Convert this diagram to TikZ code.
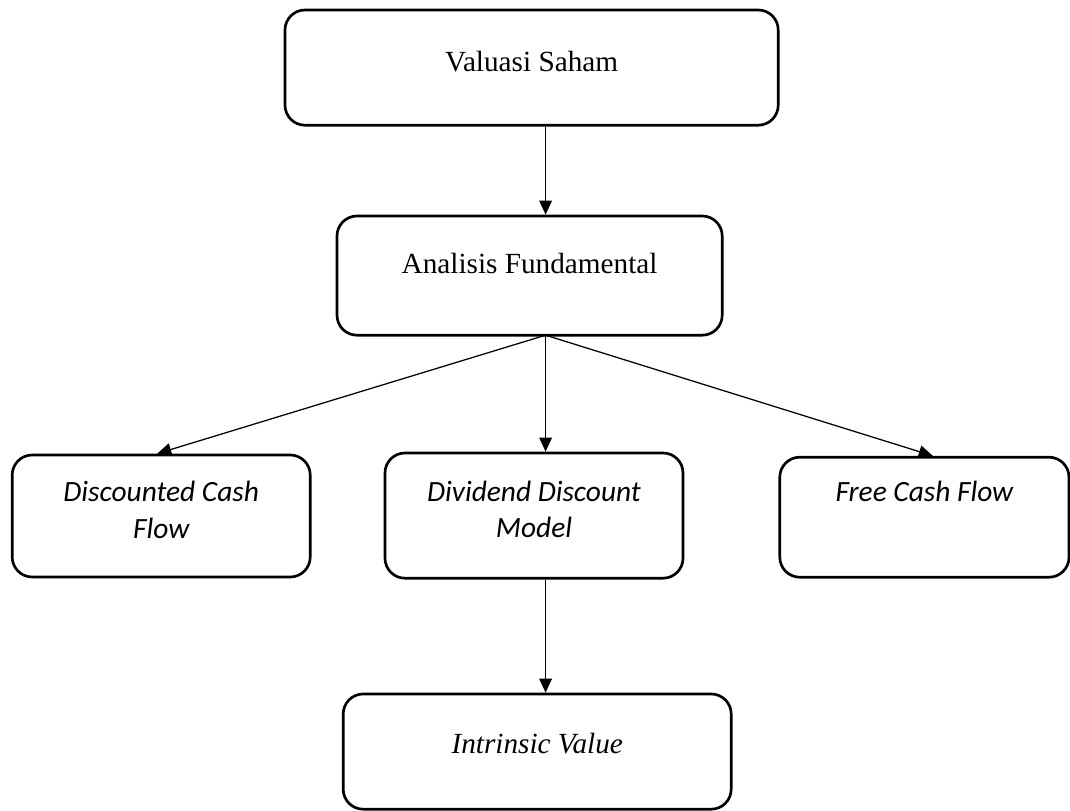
\documentclass[tikz,border=0pt]{standalone}
\usepackage{fontspec}
\setmainfont{Liberation Serif}
\newfontfamily\calibri{Carlito}
\usepackage{tikz}
\usetikzlibrary{positioning}
\usetikzlibrary{arrows.meta}

\begin{document}
\begin{tikzpicture}[->,>={Triangle[length=10pt,width=9pt]},line width=0.9pt,
	box/.style={draw,rounded corners=0.5cm,line width=1.9pt,inner sep=0pt},
	inside/.style={anchor=center,align=center,font=\fontsize{20.8}{26}\selectfont},
	serif text/.style={inside},
	sans text/.style={inside,font=\fontsize{20.9}{26}\selectfont\calibri\itshape}]
	
	\useasboundingbox (0,0) rectangle (26.75,-20.275);
	
	\node[box, minimum width=12.33cm, minimum height=2.88cm,
		label={[serif text, yshift=-1.33cm]north:Valuasi Saham}] (valuasi) at (13.29,-1.69) {};
	\node[box, minimum width=9.63cm, minimum height=2.98cm,
		label={[serif text, yshift=-1.23cm]north:Analisis Fundamental}] (analisis) at (13.24,-6.89) {};
	\node[box, minimum width=7.45cm, minimum height=3.05cm,
		label={[sans text, yshift=-1.4cm]north:Discounted Cash\\Flow}] (dcf) at (4.03,-12.9) {};
	\node[box, minimum width=7.45cm, minimum height=3.13cm,
		label={[sans text, yshift=-1.44cm]north:Dividend Discount\\Model}] (ddm) at (13.35,-12.89) {};
	\node[box, minimum width=7.23cm, minimum height=3.0cm,
		label={[sans text, yshift=-0.9cm]north:Free Cash Flow}] (fcf) at (23.11,-12.93) {};
	\node[box, minimum width=9.7cm, minimum height=2.88cm,
		label={[serif text, yshift=-1.28cm,font=\fontsize{20.8}{26}\selectfont\itshape]north:Intrinsic Value}] (intrinsic) at (13.43,-18.79) {};
	
	% all lower arrows leave from one point under Analisis Fundamental
	\coordinate (fork) at (13.64,-8.38);
	
	\draw (valuasi.south -| fork) -- (analisis.north -| fork);
	\draw (fork) -- ([xshift=-0.1cm]dcf.north);
	\draw (fork) -- (ddm.north -| fork);
	\draw (fork) -- ([xshift=0.21cm]fcf.north);
	\draw (ddm.south -| fork) -- (intrinsic.north -| fork);
\end{tikzpicture}
\end{document}
